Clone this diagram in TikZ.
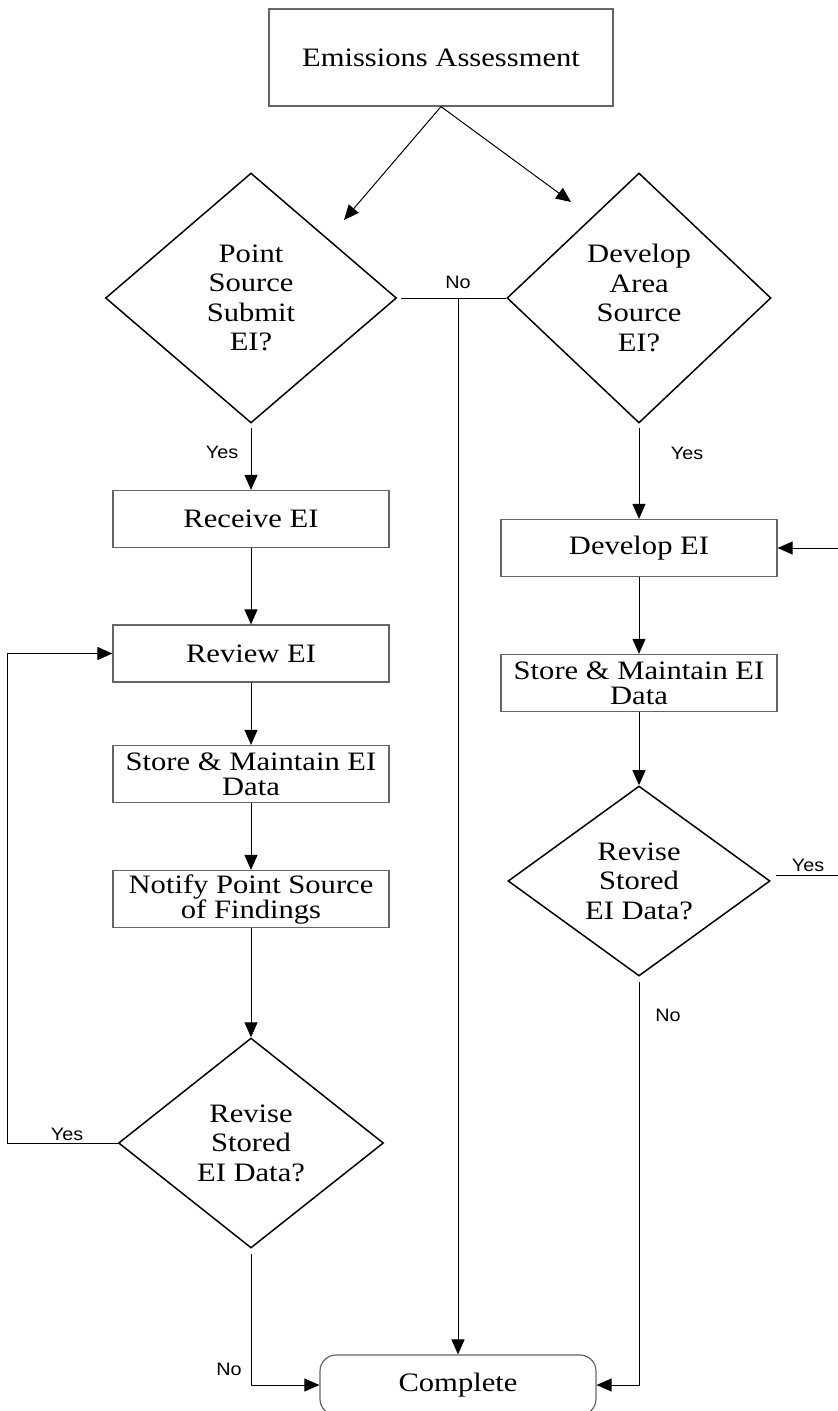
\documentclass[tikz,border=0pt]{standalone}
\usepackage{fontspec}
\setmainfont{Liberation Serif}[FakeStretch=1.15]
\newfontfamily\lblfont{Liberation Sans}[FakeStretch=1.1]
\usetikzlibrary{arrows.meta,shapes.geometric,calc}
\tikzset{
  proc/.style={draw=black!60, line width=1.2pt, rectangle, minimum width=276,
    minimum height=57, inner sep=0pt, align=center,
    font=\fontsize{26.6}{25}\selectfont},
  decide/.style={draw, line width=1.5pt, diamond, inner sep=0pt, align=center,
    font=\fontsize{26.6}{29.5}\selectfont},
  flow/.style={line width=1pt, -{Triangle[length=15pt,width=13pt]}},
  lbl/.style={font=\lblfont\fontsize{18}{18}\selectfont, inner sep=0pt}
}

\begin{document}
\begin{tikzpicture}[x=1pt,y=-1pt]
  \clip (0,0) rectangle (838,1411);
  % top of the chart
  \node[proc, minimum width=344, minimum height=97] (ea) at (441,57.5) {Emissions Assessment};
  \node[decide, minimum width=291, minimum height=250] (ps) at (251,298) {Point\\Source\\Submit\\EI?};
  \node[decide, minimum width=264, minimum height=250] (da) at (639,298) {Develop\\Area\\Source\\EI?};
  \coordinate (ta) at (344,220);
  \coordinate (tb) at (571,202);
  \draw[flow] (ea.south) -- (ta);
  \draw[flow] (ea.south) -- (tb);

  % point source branch
  \node[proc] (rcv) at (251,519) {Receive EI};
  \node[proc] (rev) at (251,653.5) {Review EI};
  \node[proc] (st1) at (251,774) {Store \& Maintain EI\\Data};
  \node[proc] (ntf) at (251,899) {Notify Point Source\\of Findings};
  \node[decide, minimum width=265, minimum height=210] (rv1) at (251,1143) {Revise\\Stored\\EI Data?};

  % area source branch
  \node[proc] (dev) at (639,548) {Develop EI};
  \node[proc] (st2) at (639,683) {Store \& Maintain EI\\Data};
  \node[decide, minimum width=262, minimum height=190] (rv2) at (639,881) {Revise\\Stored\\EI Data?};

  \node[proc, rounded corners=16, minimum height=60] (cmp) at (458,1385) {Complete};

  \draw[flow, shorten <=4pt] (ps.south) -- (rcv.north);
  \draw[flow] (rcv) -- (rev);
  \draw[flow] (rev) -- (st1);
  \draw[flow] (st1) -- (ntf);
  \draw[flow] (ntf) -- (rv1);
  \draw[flow] (rv1.west) -- ++(-110,0) |- (rev.west);
  \draw[flow, shorten <=5pt] (rv1.south) |- (cmp.west);

  \draw (ps.east) ++(4,0) -- (da.west);
  \draw[flow] (cmp.north |- ps.east) -- (cmp.north);

  \draw[flow, shorten <=4pt] (da.south) -- (dev.north);
  \draw[flow] (dev) -- (st2);
  \draw[flow] (st2) -- (rv2);
  \draw[flow, shorten <=5pt] (rv2.south) |- (cmp.east);
  \draw[flow] ($(rv2.east)+(5,-6)$) -- (860,875) |- (dev.east);

  % labels
  \node[lbl] (y1) at (222,452) {Yes};
  \node[lbl] (n1) at (458,282) {No};
  \node[lbl] (y2) at (687,453) {Yes};
  \node[lbl] (y3) at (67,1134) {Yes};
  \node[lbl] (n2) at (229,1369) {No};
  \node[lbl] (y4) at (808,865) {Yes};
  \node[lbl] (n3) at (668,1015) {No};
\end{tikzpicture}
\end{document}
